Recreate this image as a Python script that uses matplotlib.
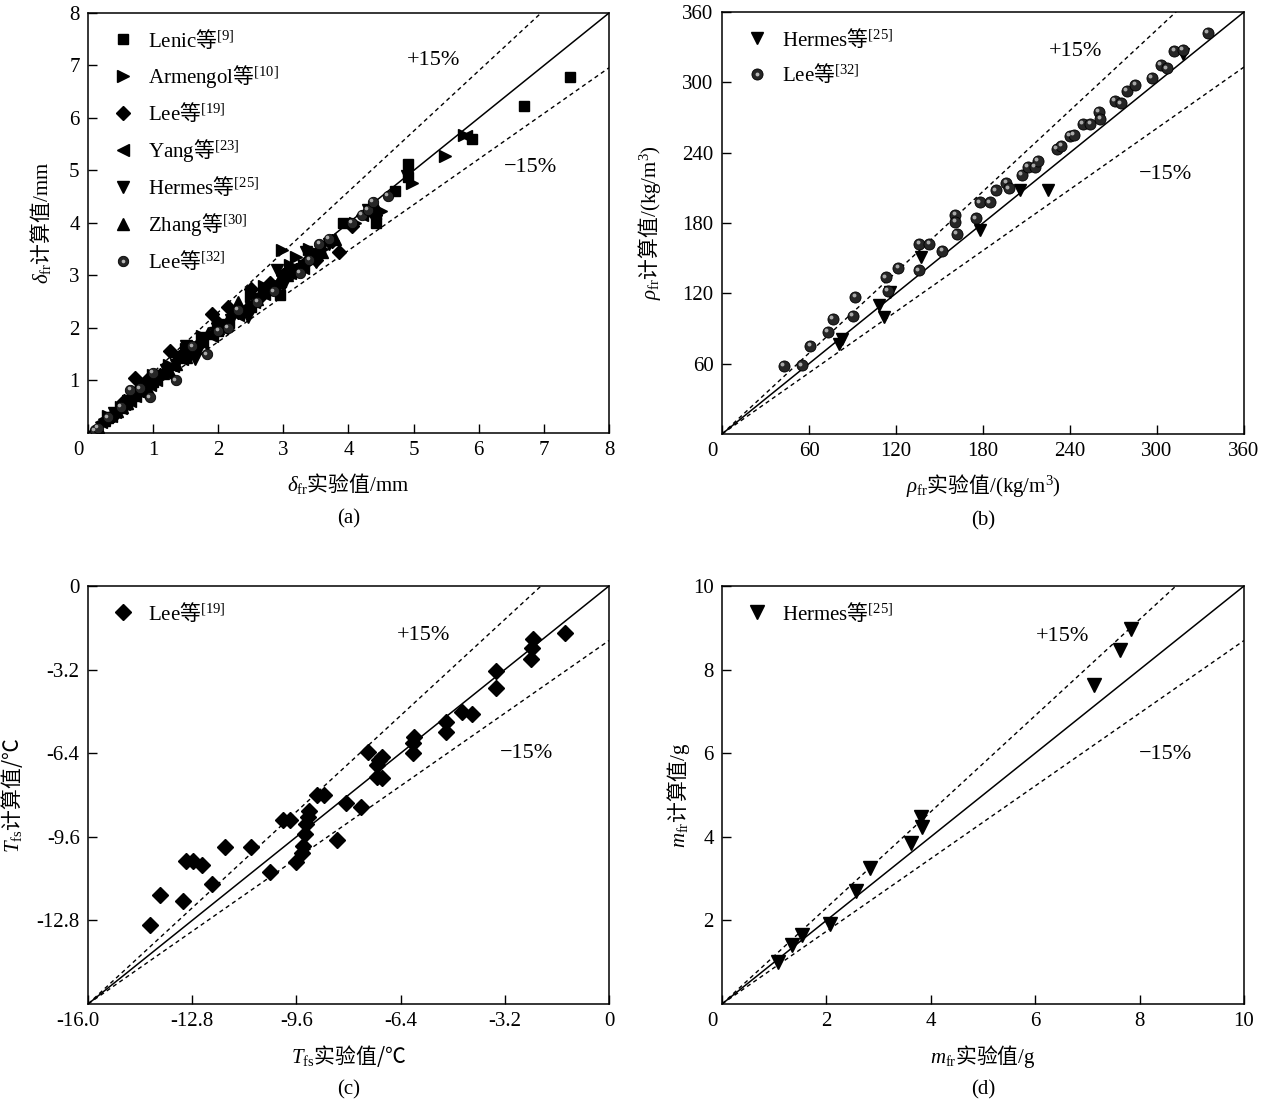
import matplotlib
matplotlib.use("Agg")
import matplotlib.pyplot as plt
import matplotlib.transforms as mtransforms
from matplotlib.legend_handler import HandlerTuple
import numpy as np

plt.rcParams["font.family"] = ["Liberation Serif", "Noto Sans CJK SC"]
plt.rcParams["mathtext.fontset"] = "custom"
plt.rcParams["mathtext.rm"] = "Liberation Serif"
plt.rcParams["mathtext.it"] = "Liberation Serif:italic"
plt.rcParams["mathtext.bf"] = "Liberation Serif:bold"
plt.rcParams["mathtext.sf"] = "Noto Sans CJK SC"
plt.rcParams["mathtext.fallback"] = "stix"
plt.rcParams["axes.unicode_minus"] = False
plt.rcParams["font.size"] = 15

# ---- panel (a): frost layer thickness, mm ----
lenic_x = [0.3, 0.6, 1.0, 1.5, 2.0, 2.5, 2.95, 3.3, 3.92, 4.42, 4.42, 4.72, 4.92, 4.92, 5.9, 6.7, 7.4]
lenic_y = [0.28, 0.55, 0.98, 1.45, 1.95, 2.4, 2.62, 3.2, 4.0, 4.0, 4.18, 4.6, 4.87, 5.13, 5.6, 6.22, 6.78]
armengol_x = [0.3, 0.5, 0.7, 1.0, 1.25, 1.5, 1.75, 2.0, 2.25, 2.5, 2.7, 2.98, 3.1, 3.2, 3.4, 3.6,
              4.1, 4.5, 4.98, 5.48, 5.78]
armengol_y = [0.32, 0.5, 0.75, 1.1, 1.3, 1.6, 1.85, 2.05, 2.35, 2.6, 2.8, 3.48, 3.2, 3.35, 3.5, 3.5,
              4.0, 4.22, 4.77, 5.27, 5.68]
lee19_x = [0.4, 0.55, 0.72, 0.8, 0.9, 1.1, 1.26, 1.4, 1.6, 1.7, 1.9, 2.0, 2.15, 2.3, 2.5, 2.65,
           2.8, 3.0, 3.2, 3.35, 3.5, 3.75, 3.85, 4.05, 4.4]
lee19_y = [0.35, 0.6, 1.05, 0.85, 1.0, 1.1, 1.57, 1.45, 1.55, 1.7, 2.27, 2.1, 2.4, 2.3, 2.75, 2.6,
           2.85, 3.0, 3.1, 3.25, 3.3, 3.65, 3.45, 3.95, 4.15]
yang_x = [0.2, 0.25, 0.35, 0.42, 0.5, 0.55, 0.65, 0.72, 0.8, 0.95, 1.05, 1.2, 1.3, 1.45, 1.6, 1.75,
          1.9, 2.05, 2.15, 2.3, 2.45, 2.55, 2.7, 2.85, 2.95, 3.1, 3.25, 3.3, 3.45, 3.55, 4.2, 5.8]
yang_y = [0.2, 0.27, 0.32, 0.4, 0.48, 0.55, 0.6, 0.7, 0.78, 0.92, 1.0, 1.15, 1.28, 1.4, 1.55, 1.72,
          1.85, 2.0, 2.12, 2.25, 2.42, 2.5, 2.65, 2.8, 2.9, 3.05, 3.2, 3.15, 3.4, 3.5, 4.15, 5.65]
hermes_a_x = [0.3, 0.4, 0.55, 0.62, 0.7, 0.85, 0.95, 1.05, 1.2, 1.35, 1.5, 1.55, 1.65, 1.7, 1.8,
              1.95, 2.1, 2.2, 2.35, 2.45, 2.6, 2.75, 2.9, 3.0, 3.15, 3.35, 3.45, 3.5, 3.6, 3.7,
              4.3, 4.9]
hermes_a_y = [0.28, 0.38, 0.5, 0.6, 0.68, 0.8, 0.9, 1.0, 1.2, 1.3, 1.65, 1.5, 1.4, 1.6, 1.8,
              1.9, 2.05, 2.15, 2.3, 2.2, 2.55, 2.7, 3.1, 2.8, 3.05, 3.45, 3.35, 3.25, 3.55, 3.6,
              4.25, 4.9]
zhang_x = [0.15, 0.25, 0.35, 0.45, 0.52, 0.6, 0.7, 0.8, 0.9, 1.05, 1.15, 1.25, 1.35, 1.5, 1.65,
           1.85, 2.0, 2.15, 2.3, 2.45, 2.6, 2.75, 2.95, 3.05, 3.2, 3.4, 3.6, 3.8, 4.4]
zhang_y = [0.12, 0.25, 0.35, 0.42, 0.5, 0.58, 0.72, 0.82, 0.88, 1.05, 1.15, 1.2, 1.32, 1.45, 1.62,
           1.9, 2.0, 2.18, 2.5, 2.45, 2.55, 2.75, 2.95, 3.0, 3.1, 3.35, 3.45, 3.7, 4.35]
lee32_a_x = [0.1, 0.15, 0.3, 0.5, 0.65, 0.8, 0.95, 1.0, 1.35, 1.6, 1.82, 2.0, 2.15, 2.3, 2.6,
             2.85, 3.25, 3.4, 3.55, 3.7, 4.05, 4.2, 4.3, 4.37, 4.6]
lee32_a_y = [0.05, 0.1, 0.3, 0.5, 0.82, 0.85, 0.68, 1.15, 1.0, 1.65, 1.5, 1.95, 2.0, 2.35, 2.5,
             2.7, 3.05, 3.3, 3.6, 3.7, 4.0, 4.15, 4.25, 4.4, 4.52]

# ---- panel (b): frost density, kg/m3 ----
hermes_b_x = [81, 83, 108, 112, 116, 137.5, 178, 205.5, 225, 318]
hermes_b_y = [77, 81, 110, 100, 121, 151, 174, 208, 208, 324]
lee32_b_x = [42.5, 55, 61, 73, 76.4, 90, 92, 113, 114.5, 121.6, 135.6, 136, 143, 152, 161, 161,
             162, 175, 178, 184.7, 188.8, 196, 198, 207, 211, 215.6, 218, 230.7, 234, 240,
             242.5, 249, 254, 260, 261, 271, 275, 279, 285, 296.4, 302.5, 307, 312, 318, 335]
lee32_b_y = [58.4, 58.7, 75, 87, 98, 100.6, 117, 133.6, 122, 141.7, 139.7, 162.5, 162.5, 156, 187, 181,
             170.6, 184, 197.5, 197.5, 208, 214, 209.7, 221, 228, 228, 233, 243, 246, 254.5,
             255, 264.6, 264.6, 275, 269, 284, 282, 293, 298, 304, 315, 312, 327, 327.6, 342]

# ---- panel (c): frost surface temperature, degC ----
lee19_c_x = [-14.11, -13.79, -13.08, -13.0, -12.78, -12.5, -12.19, -11.78, -10.99, -10.4, -10.01,
             -9.8, -9.6, -9.43, -9.39, -9.33, -9.31, -9.24, -9.21, -8.97, -8.76, -8.34, -8.09,
             -7.61, -7.39, -7.14, -7.06, -6.97, -7.12, -6.96, -6.02, -6.02, -6.0, -5.02, -5.02,
             -4.5, -4.2, -3.47, -3.47, -2.41, -2.37, -2.34, -1.34]
lee19_c_y = [-12.99, -11.81, -12.04, -10.52, -10.52, -10.68, -11.39, -9.99, -9.99, -10.94, -8.96,
             -8.96, -10.55, -10.22, -9.96, -9.48, -9.12, -8.83, -8.62, -7.99, -7.99, -9.74, -8.31,
             -8.47, -6.36, -6.84, -6.65, -6.55, -7.3, -7.36, -6.39, -6.0, -5.77, -5.19, -5.58,
             -4.81, -4.9, -3.25, -3.9, -2.78, -2.39, -2.04, -1.78]

# ---- panel (d): frost mass, g ----
hermes_d_x = [1.08, 1.35, 1.54, 2.07, 2.56, 2.83, 3.63, 3.81, 3.84, 7.13, 7.63, 7.83]
hermes_d_y = [1.01, 1.40, 1.65, 1.92, 2.70, 3.26, 3.86, 4.48, 4.24, 7.63, 8.47, 8.97]

W, H = 1261, 1107
fig = plt.figure(figsize=(W / 100, H / 100), dpi=100)

boxes = {
    "a": (88, 13, 609, 433),
    "b": (722, 12, 1244, 434),
    "c": (88, 586, 609, 1004),
    "d": (722, 586, 1244, 1004),
}


def make_axes(key):
    x0, y0, x1, y1 = boxes[key]
    ax = fig.add_axes([x0 / W, 1 - y1 / H, (x1 - x0) / W, (y1 - y0) / H])
    ax.tick_params(direction="in", length=6.5, width=1, top=False, right=False,
                   labelsize=15, pad=6)
    for sp in ax.spines.values():
        sp.set_linewidth(1.1)
    return ax


def ref_lines(ax, lo, hi):
    xs = np.array([lo, hi])
    ax.plot(xs, xs, color="black", lw=1.1, zorder=1)
    ax.plot(xs, lo + 1.15 * (xs - lo), color="black", lw=1.0, ls=(0, (3, 2.5)), zorder=1)
    ax.plot(xs, lo + (xs - lo) / 1.15, color="black", lw=1.0, ls=(0, (3, 2.5)), zorder=1)
    ax.set_xlim(lo, hi)
    ax.set_ylim(lo, hi)


def sphere(ax, xs, ys, ms=7.5):
    h1, = ax.plot(xs, ys, "o", ms=ms, mfc="#262626", mec="black", mew=0.6, ls="none", zorder=3)
    hl = mtransforms.offset_copy(ax.transData, fig=fig, x=-1.2, y=1.2, units="points")
    ax.plot(xs, ys, "o", ms=ms * 0.35, mfc="#b8b8b8", mec="none", ls="none",
            transform=hl, zorder=4, alpha=0.9)
    h2, = ax.plot([], [], "o", ms=ms * 0.35, mfc="#b8b8b8", mec="none", ls="none")
    return (h1, h2)


def pct_labels(ax, plus, minus):
    ax.text(*plus, "+15%", ha="center", va="center", fontsize=16)
    ax.text(*minus, "\u221215%", ha="center", va="center", fontsize=16)


def finish(ax, xlabel, ylabel, tag, handles, labels, ylab_x, xlab_y):
    ax.set_xlabel(xlabel, fontsize=15)
    ax.set_ylabel(ylabel, fontsize=15)
    ax.xaxis.set_label_coords(0.5, xlab_y)
    ax.xaxis.label.set_va("center")
    ax.yaxis.set_label_coords(ylab_x, 0.5)
    ax.yaxis.label.set_va("center")
    ax.text(0.5, -0.205, tag, transform=ax.transAxes, ha="center", va="center", fontsize=15)
    ax.legend(handles, labels, loc="upper left", frameon=False, fontsize=15,
              handletextpad=0.2, labelspacing=0.55, borderaxespad=0.3,
              handler_map={tuple: HandlerTuple(ndivide=1, pad=0)})
    # first x tick label sits a little to the left of the corner in the original
    first = ax.get_xticklabels()[0]
    first.set_transform(first.get_transform()
                        + mtransforms.ScaledTranslation(-7 / 72, 0, fig.dpi_scale_trans))


# (a)
ax = make_axes("a")
ref_lines(ax, 0, 8)
hs = []
hs.append(ax.plot(lenic_x, lenic_y, "s", ms=7, color="black", ls="none", zorder=3)[0])
hs.append(ax.plot(armengol_x, armengol_y, ">", ms=8.5, color="black", ls="none", zorder=3)[0])
hs.append(ax.plot(lee19_x, lee19_y, "D", ms=7, color="black", ls="none", zorder=3)[0])
hs.append(ax.plot(yang_x, yang_y, "<", ms=8.5, color="black", ls="none", zorder=3)[0])
hs.append(ax.plot(hermes_a_x, hermes_a_y, "v", ms=8.5, color="black", ls="none", zorder=3)[0])
hs.append(ax.plot(zhang_x, zhang_y, "^", ms=8.5, color="black", ls="none", zorder=3)[0])
hs.append(sphere(ax, lee32_a_x, lee32_a_y, ms=7.5))
ax.set_xticks(range(0, 9))
ax.set_yticks(range(1, 9))
pct_labels(ax, (5.3, 7.1), (6.8, 5.05))
finish(ax, r"$\delta_{\rm fr}\mathsf{实验值}$/mm", r"$\delta_{\rm fr}\mathsf{计算值}$/mm", "(a)", hs,
       [r"Lenic$\mathsf{等}^{\rm [9]}$", r"Armengol$\mathsf{等}^{\rm [10]}$",
        r"Lee$\mathsf{等}^{\rm [19]}$", r"Yang$\mathsf{等}^{\rm [23]}$",
        r"Hermes$\mathsf{等}^{\rm [25]}$", r"Zhang$\mathsf{等}^{\rm [30]}$",
        r"Lee$\mathsf{等}^{\rm [32]}$"], -0.092, -0.121)

# (b)
ax = make_axes("b")
ref_lines(ax, 0, 360)
hs = [ax.plot(hermes_b_x, hermes_b_y, "v", ms=9, color="black", ls="none", zorder=3)[0]]
hs.append(sphere(ax, lee32_b_x, lee32_b_y, ms=8))
ax.set_xticks(range(0, 361, 60))
ax.set_yticks(range(60, 361, 60))
pct_labels(ax, (244, 326), (306, 221))
finish(ax, r"$\rho_{\rm fr}\mathsf{实验值}$/(kg/m$^{\rm 3}$)",
       r"$\rho_{\rm fr}\mathsf{计算值}$/(kg/m$^{\rm 3}$)", "(b)", hs,
       [r"Hermes$\mathsf{等}^{\rm [25]}$", r"Lee$\mathsf{等}^{\rm [32]}$"], -0.138, -0.121)

# (c)
ax = make_axes("c")
ref_lines(ax, -16, 0)
hs = [ax.plot(lee19_c_x, lee19_c_y, "D", ms=8, color="black", ls="none", zorder=3)[0]]
ax.set_xticks([-16, -12.8, -9.6, -6.4, -3.2, 0])
ax.set_xticklabels(["-16.0", "-12.8", "-9.6", "-6.4", "-3.2", "0"])
ax.set_yticks([-12.8, -9.6, -6.4, -3.2, 0])
ax.set_yticklabels(["-12.8", "-9.6", "-6.4", "-3.2", "0"])
pct_labels(ax, (-5.68, -1.88), (-2.52, -6.43))
finish(ax, r"$T_{\rm fs}\mathsf{实验值/℃}$", r"$T_{\rm fs}\mathsf{计算值/℃}$", "(c)", hs,
       [r"Lee$\mathsf{等}^{\rm [19]}$"], -0.146, -0.125)

# (d)
ax = make_axes("d")
ref_lines(ax, 0, 10)
hs = [ax.plot(hermes_d_x, hermes_d_y, "v", ms=10, color="black", ls="none", zorder=3)[0]]
ax.set_xticks(range(0, 11, 2))
ax.set_yticks(range(2, 11, 2))
pct_labels(ax, (6.53, 8.8), (8.5, 5.96))
finish(ax, r"$m_{\rm fr}\mathsf{实验值}$/g", r"$m_{\rm fr}\mathsf{计算值}$/g", "(d)", hs,
       [r"Hermes$\mathsf{等}^{\rm [25]}$"], -0.084, -0.125)

fig.savefig("out.png", dpi=100)
